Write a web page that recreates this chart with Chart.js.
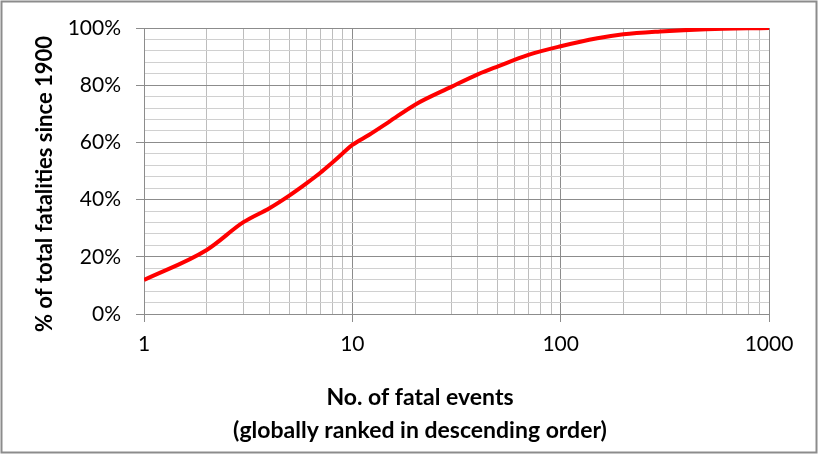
<!DOCTYPE html>
<html>
<head>
<meta charset="utf-8">
<script src="https://cdn.jsdelivr.net/npm/chart.js@4.4.0/dist/chart.umd.min.js"></script>
<style>
    body { margin: 0; background: #fff; }
    canvas { display: block; }
</style>
</head>
<body>
<canvas id="fatalities" width="818" height="454"></canvas>
<script>
// rank of event (log axis) and cumulative share of deaths
var events = [1, 2, 3, 4, 5, 6, 7, 8, 9, 10, 12, 15, 20, 30, 40, 50, 70, 100, 150, 200, 300, 500, 1000]
var share = [11.9, 22.4, 32.1, 37.0, 41.5, 45.6, 49.3, 52.9, 56.2, 59.1, 62.6, 67.2, 73.2, 79.5, 83.8, 86.6, 90.6, 93.6, 96.4, 97.8, 98.8, 99.6, 100]

var xTickValues = [1, 10, 100, 1000]
var xTickLabels = ['1', '10', '100', '1000']
var yTickLabels = ['0%', '20%', '40%', '60%', '80%', '100%']

var xTitle = ['No. of fatal events', '(globally ranked in descending order)']
var yTitle = '% of total fatalities since 1900'

var majorGrid = '#8c8c8c'
var minorGridX = '#bdbdbd'
var minorGridY = '#d0d0d0'

Chart.defaults.font.family = 'Lato'
Chart.defaults.color = '#000'

var points = events.map(function(e, i){
    return {x: e, y: share[i]}
})

// all log gridlines 1..9 per decade, no 15/150 ticks
function logTicks(){
    var ticks = []
    for (var d = 1; d < 1000; d *= 10) {
        for (var m = 1; m < 10; m++) {
            ticks.push({value: d * m, major: m === 1})
        }
    }
    ticks.push({value: 1000, major: true})
    return ticks
}

var frame = {
    id: 'frame',
    beforeDraw: function(chart){
        var c = chart.ctx
        c.save()
        c.fillStyle = '#fff'
        c.fillRect(0, 0, chart.width, chart.height)
        c.restore()
    },
    afterDraw: function(chart){
        var c = chart.ctx
        c.save()
        c.strokeStyle = '#8c8c8c'
        c.lineWidth = 2
        c.strokeRect(1.5, 1.5, 815, 451)

        c.fillStyle = '#000'
        c.textAlign = 'center'
        c.textBaseline = 'middle'
        c.font = 'bold 23px Lato'
        c.fillText(xTitle[0], 420, 398)
        c.fillText(xTitle[1], 420, 431)

        c.font = 'bold 22px Lato'
        c.translate(45, 184)
        c.rotate(-Math.PI / 2)
        c.fillText(yTitle, 0, 0)
        c.restore()
    }
}

var ctx = document.getElementById('fatalities')
var chart = new Chart(ctx, {
    type: 'scatter',
    data: {
        datasets: [{
            data: points,
            showLine: true,
            borderColor: '#ff0000',
            borderWidth: 4,
            pointRadius: 0,
            cubicInterpolationMode: 'monotone'
        }]
    },
    options: {
        responsive: false,
        animation: false,
        layout: {
            padding: {top: 28, right: 49, left: 0, bottom: 0}
        },
        plugins: {
            legend: {display: false},
            tooltip: {enabled: false}
        },
        scales: {
            x: {
                type: 'logarithmic',
                min: 1,
                max: 1000,
                afterBuildTicks: function(scale){
                    scale.ticks = logTicks()
                },
                afterFit: function(scale){
                    scale.height = 140
                },
                border: {color: majorGrid},
                grid: {
                    color: function(c){
                        return c.tick && xTickValues.indexOf(c.tick.value) >= 0 ? majorGrid : minorGridX
                    },
                    tickColor: function(c){
                        return c.tick && xTickValues.indexOf(c.tick.value) >= 0 ? majorGrid : 'rgba(0,0,0,0)'
                    },
                    tickLength: 8
                },
                ticks: {
                    autoSkip: false,
                    maxRotation: 0,
                    padding: 10,
                    font: {size: 21},
                    callback: function(value){
                        var i = xTickValues.indexOf(value)
                        return i >= 0 ? xTickLabels[i] : ''
                    }
                }
            },
            y: {
                min: 0,
                max: 100,
                afterFit: function(scale){
                    scale.width = 144
                },
                border: {color: majorGrid},
                grid: {
                    color: function(c){
                        return c.tick && c.tick.value % 20 === 0 ? majorGrid : minorGridY
                    },
                    tickColor: function(c){
                        return c.tick && c.tick.value % 20 === 0 ? majorGrid : 'rgba(0,0,0,0)'
                    },
                    tickLength: 8
                },
                ticks: {
                    stepSize: 4,
                    autoSkip: false,
                    padding: 15,
                    font: {size: 21},
                    callback: function(value){
                        return value % 20 === 0 ? yTickLabels[value / 20] : ''
                    }
                }
            }
        }
    },
    plugins: [frame]
})
</script>
</body>
</html>
